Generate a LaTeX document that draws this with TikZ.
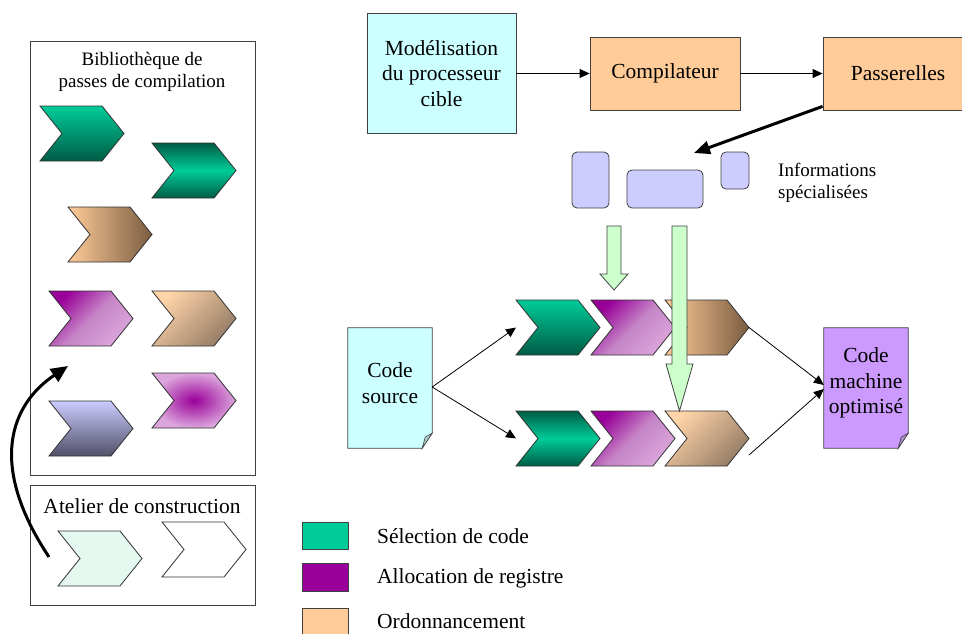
\documentclass[tikz,border=0pt]{standalone}
\usepackage{fontspec}
\setmainfont{Liberation Serif}
\usetikzlibrary{arrows.meta,backgrounds}

\definecolor{selLight}{HTML}{00CC99}
\definecolor{selDark}{HTML}{005C45}
\definecolor{allocDark}{HTML}{990099}
\definecolor{allocMid}{HTML}{C585C6}
\definecolor{allocLight}{HTML}{DCA6DC}
\definecolor{ordLight}{HTML}{FFCC99}
\definecolor{ordDark}{HTML}{7A5C40}
\definecolor{cibleBlue}{HTML}{CCFFFF}
\definecolor{infoBlue}{HTML}{CCCCFF}
\definecolor{infoDark}{HTML}{505068}
\definecolor{arrGreen}{HTML}{CCFFCC}
\definecolor{asmPurple}{HTML}{CC99FF}
\definecolor{newPass}{HTML}{E4F8F0}

\begin{document}
\begin{tikzpicture}[x=1pt,y=-1pt,
    chev/.style={draw=black!80,line width=0.8pt},
    chevron/.pic={
      \path[chev,#1] (0,0) -- (62,0) -- (84,27.5) -- (62,55) -- (0,55) -- (22,27.5) -- cycle;
      \coordinate (-west) at (0,27.5);
      \coordinate (-tip) at (84,27.5);},
    selA/.style={top color=selLight,bottom color=selDark},
    selB/.style={top color=selDark,bottom color=selDark,middle color=selLight},
    allocA/.style={top color=allocDark,bottom color=allocLight,middle color=allocMid,shading angle=45},
    allocR/.style={inner color=allocDark,outer color=allocLight},
    ordA/.style={left color=ordLight,right color=ordDark},
    ordB/.style={top color=ordLight!85!white,bottom color=ordDark!80!white,shading angle=45},
    lavA/.style={top color=infoBlue,bottom color=infoDark},
    box/.style={draw=black!75,line width=0.8pt,align=center,inner sep=0,
      font=\fontsize{21.5}{25.5}\selectfont},
    doc/.style={align=center,inner sep=0,minimum width=84,minimum height=110,
      font=\fontsize{21.5}{25.5}\selectfont},
    info/.style={draw=black!75,fill=infoBlue,rounded corners=5pt,line width=0.8pt},
    link/.style={-{Triangle[length=10pt,width=9pt]},line width=0.8pt},
    bold link/.style={-{Triangle[length=16pt,width=13pt]},line width=3pt},
    down/.style={draw=black!75,fill=arrGreen,line width=0.8pt},
    caption/.style={font=\fontsize{19}{21.5}\selectfont,align=center,inner sep=0},
    leg/.style={draw=black!75,line width=0.8pt,minimum width=46,inner sep=0},
    legtxt/.style={font=\fontsize{21.5}{25}\selectfont,anchor=west,inner sep=0}]

  \path[use as bounding box] (0,0) rectangle (962,633);
  \clip (0,0) rectangle (962,633);

  % library of passes
  \node[box,minimum width=225,minimum height=434] (libFrame) at (142.5,258) {};
  \node[caption] (libTitle) at (142,72) {Bibliothèque de\\passes de compilation};
  \pic (lib1) at (40,106) {chevron=selA};
  \pic (lib2) at (152,143) {chevron=selB};
  \pic (lib3) at (68,207) {chevron=ordA};
  \pic (lib4) at (49,291) {chevron=allocA};
  \pic (lib5) at (152,291) {chevron=ordB};
  \pic (lib6) at (49,401) {chevron=lavA};
  \pic (lib7) at (152,373) {chevron=allocR};

  % workshop
  \node[box,minimum width=225,minimum height=120] (workFrame) at (142.5,545) {};
  \node[box,draw=none] (workTitle) at (142,506) {Atelier de construction};
  \pic (new1) at (58,531) {chevron={fill=newPass}};
  \pic (new2) at (162,522) {chevron={fill=white}};
  \coordinate (grabStart) at (49,557);
  \coordinate (grabEnd) at (68,366);
  \draw[line width=3pt,-{Triangle[length=17pt,width=15pt]}]
    (grabStart) .. controls (-12,465) and (10,405) .. (grabEnd);

  % target description and generators
  \node[box,fill=cibleBlue,minimum width=149,minimum height=120] (cible) at (441.5,73.5)
    {Modélisation\\du processeur\\cible};
  \node[box,fill=ordLight,minimum width=150,minimum height=73] (comp) at (665,73.5) {Compilateur};
  \node[box,fill=ordLight,minimum width=150,minimum height=73] (pass) at (898,73.5) {Passerelles};
  \draw[link] (cible) -- (comp);
  \draw[link] (comp) -- (pass);

  \node[info,minimum width=37,minimum height=56] (info1) at (590.5,180) {};
  \node[info,minimum width=76,minimum height=38] (info2) at (665,189) {};
  \node[info,minimum width=28,minimum height=37] (info3) at (735,170.5) {};
  \node[caption,anchor=west,align=left] (infoTxt) at (778,183) {Informations\\spécialisées};
  \coordinate (infoIn) at (694,153);
  \draw[bold link] ([yshift=4pt]pass.south west) -- (infoIn);

  % the two compilation chains
  \pic (sel1) at (516,300) {chevron=selA};
  \pic (alloc1) at (591,300) {chevron=allocA};
  \pic (ord1) at (665,300) {chevron=ordA};
  \pic (sel2) at (516,411) {chevron=selB};
  \pic (alloc2) at (591,411) {chevron=allocA};
  \pic (ord2) at (665,411) {chevron=ordB};

  \draw[down] (607,226) -- (621,226) -- (621,274) -- (628,274) -- (614,290)
    -- (600,274) -- (607,274) -- cycle;
  \draw[down] (672,226) -- (687,226) -- (687,364) -- (693,364) -- (679.5,411)
    -- (666,364) -- (672,364) -- cycle;

  \node[doc] (src) at (390,383) {Code\\source};
  \node[doc] (asm) at (866,383) {Code\\machine\\optimisé};
  \begin{scope}[on background layer]
    \foreach \n/\c in {src/cibleBlue,asm/asmPurple} {
      \filldraw[fill=\c,draw=black!75,line width=0.8pt] (\n.north west) -- (\n.north east)
        -- ([yshift=5pt]\n.south east) -- ([xshift=-10pt,yshift=-10pt]\n.south east)
        -- ([yshift=-10pt]\n.south west) -- cycle;
      \filldraw[fill=\c!60!gray,draw=black!75,line width=0.6pt] ([yshift=5pt]\n.south east)
        -- ([xshift=-10pt,yshift=-10pt]\n.south east) -- ([xshift=-7pt,yshift=1pt]\n.south east) -- cycle;
    }
  \end{scope}

  \draw[link] ([yshift=-4pt]src.east) -- (sel1-west);
  \draw[link] ([yshift=-4pt]src.east) -- (sel2-west);
  \coordinate (ordOut) at (749,455);
  \draw[link] (ord1-tip) -- ([yshift=-2pt]asm.west);
  \draw[link] (ordOut) -- ([yshift=-6pt]asm.west);

  % legend
  \node[leg,fill=selLight,minimum height=27] (legSel) at (325,535.5) {};
  \node[leg,fill=allocDark,minimum height=28] (legAlloc) at (325,577) {};
  \node[leg,fill=ordLight,minimum height=27] (legOrd) at (325,621.5) {};
  \node[legtxt] (legSelTxt) at (377,536) {Sélection de code};
  \node[legtxt] (legAllocTxt) at (377,578) {Allocation de registre};
  \node[legtxt] (legOrdTxt) at (377,621) {Ordonnancement};
\end{tikzpicture}
\end{document}
